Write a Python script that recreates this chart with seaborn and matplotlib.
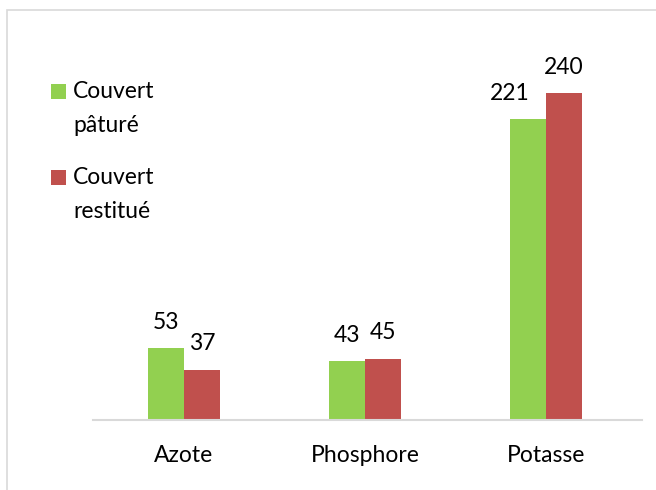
import matplotlib
matplotlib.use("Agg")
import matplotlib.pyplot as plt
import seaborn as sns
import pandas as pd
from matplotlib.patches import Rectangle

categories = ["Azote", "Phosphore", "Potasse"]
series_names = ["Couvert pâturé", "Couvert restitué"]
legend_lines = [["Couvert", "pâturé"], ["Couvert", "restitué"]]
paturé = [53, 43, 221]
restitue = [37, 45, 240]

df = pd.DataFrame({
    "cat": categories * 2,
    "serie": [series_names[0]] * 3 + [series_names[1]] * 3,
    "val": paturé + restitue,
})

sns.set_theme(style="white")
plt.rcParams['font.family'] = ['Lato', 'DejaVu Sans']

fig = plt.figure(figsize=(6.56, 4.9), dpi=100)
W, H = 656, 490
ax = fig.add_axes([93 / W, 70 / H, (642 - 93) / W, (420 - 30) / H])

colors = ["#92d050", "#c0504d"]
sns.barplot(data=df, x="cat", y="val", hue="serie", palette=colors,
            width=0.4, ax=ax, saturation=1, legend=False,
            edgecolor="none", linewidth=0)

ax.set_xlim(-0.503, 2.530)
ax.set_ylim(0, (420 - 30) / 1.3625)
all_labels = []
for c in ax.containers:
    all_labels.append(ax.bar_label(c, fontsize=16.5, padding=11, color="#000000"))

# the Potasse label of the first series is nudged left (as in the original)
ann = all_labels[0][2]
ann.xyann = (-13, ann.xyann[1])

for s in ["left", "right", "top"]:
    ax.spines[s].set_visible(False)
ax.spines["bottom"].set_color("#d9d9d9")
ax.spines["bottom"].set_linewidth(1.5)
ax.set_yticks([])
ax.set_xlabel("")
ax.set_ylabel("")
ax.tick_params(axis="x", length=0, pad=18, labelsize=16.5, colors="#000000")

# legend drawn manually (square aligned with first text line)
entry_y = [91.5, 177.5]
for i, y0 in enumerate(entry_y):
    fig.add_artist(Rectangle((51 / W, 1 - (y0 + 7.5) / H), 15 / W, 15 / H,
                             transform=fig.transFigure, facecolor=colors[i],
                             edgecolor="none"))
    for j, line in enumerate(legend_lines[i]):
        fig.text(73 / W, 1 - (y0 + j * 34) / H, line, fontsize=16.5,
                 va="center", ha="left", color="#000000")

fig.patches.append(Rectangle((7 / W, -0.1), 1.2, 1 - 10 / H + 0.1,
                             transform=fig.transFigure, fill=False,
                             edgecolor="#d9d9d9", linewidth=1.2))

fig.savefig("out.png", dpi=100)
